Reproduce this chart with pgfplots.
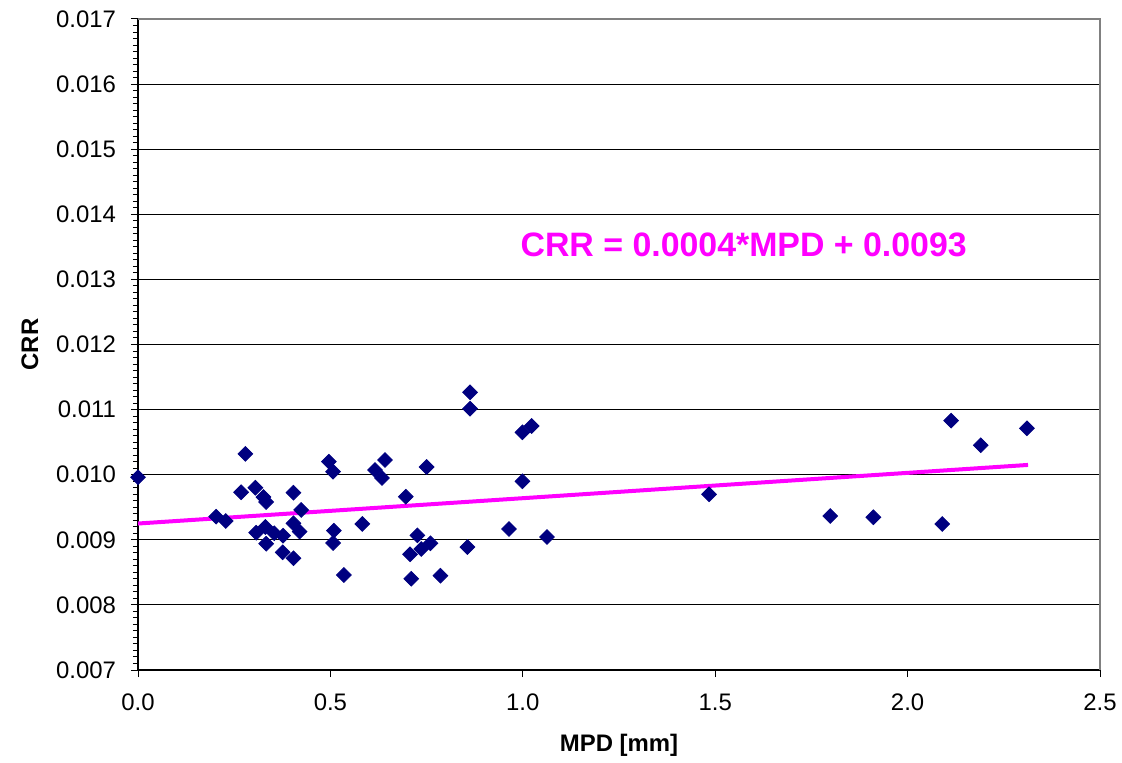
\documentclass[border=0pt]{standalone}
\usepackage{fontspec}
\setmainfont{Liberation Sans}
\usepackage{pgfplots}
\pgfplotsset{compat=1.18}
\definecolor{navy}{RGB}{0,0,128}
\definecolor{trendmag}{RGB}{255,0,255}
\begin{document}
\begin{tikzpicture}
\begin{axis}[
  scale only axis,
  width=481bp, height=325.5bp,
  xmin=0, xmax=2.5, ymin=0.007, ymax=0.017,
  xtick={0,0.5,1,1.5,2,2.5},
  ytick={0.007,0.008,0.009,0.010,0.011,0.012,0.013,0.014,0.015,0.016,0.017},
  minor y tick num=9,
  scaled y ticks=false, scaled x ticks=false,
  axis x line*=bottom, axis y line*=left,
  axis line style={black, line width=0.6bp},
  tick align=outside,
  major tick length=3.5bp, minor tick length=2.5bp,
  tick style={black, line width=0.5bp},
  x axis line style={-}, y axis line style={-},
  ymajorgrids, major grid style={black, line width=0.5bp},
  /pgf/number format/assume math mode=true,
  ticklabel style={font=\fontsize{12}{14}\selectfont},
  xticklabel style={/pgf/number format/fixed, /pgf/number format/fixed zerofill, /pgf/number format/precision=1, yshift=-5bp},
  yticklabel style={/pgf/number format/fixed, /pgf/number format/fixed zerofill, /pgf/number format/precision=3, xshift=-4bp},
  xlabel={MPD [mm]}, ylabel={CRR},
  every axis x label/.style={at={(rel axis cs:0.5,0)}, yshift=-37.5bp, anchor=center, font=\bfseries\fontsize{12}{14}\selectfont},
  every axis y label/.style={at={(rel axis cs:0,0.5)}, xshift=-54bp, rotate=90, anchor=center, font=\bfseries\fontsize{12}{14}\selectfont},
  clip=false,
]
\coordinate (bl) at (rel axis cs:0,0);
\draw[gray, line width=0.6bp] (rel axis cs:0,1) -- (rel axis cs:1,1) -- (rel axis cs:1,0);
\addplot[trendmag, line width=2bp] coordinates {(0,0.00925) (2.313,0.01015)};
\addplot[only marks, mark=square*, mark size=2.6bp, mark options={rotate=45, fill=navy, draw=navy}] coordinates {
(0.000,0.00996) (0.279,0.01032) (0.203,0.009355) (0.228,0.009289) (0.268,0.00973)
(0.305,0.00980) (0.326,0.009657) (0.333,0.009581) (0.307,0.009109) (0.331,0.009197)
(0.333,0.00894) (0.354,0.00910) (0.377,0.009063) (0.376,0.008808) (0.404,0.009724)
(0.404,0.009253) (0.424,0.009458) (0.420,0.009125) (0.404,0.008716) (0.496,0.01020)
(0.507,0.010046) (0.509,0.00914) (0.507,0.008951) (0.535,0.008459) (0.583,0.009243)
(0.616,0.010072) (0.642,0.010226) (0.634,0.009949) (0.696,0.009662) (0.750,0.010118)
(0.726,0.009069) (0.707,0.008777) (0.736,0.008859) (0.760,0.008946) (0.710,0.008402)
(0.786,0.008449) (0.856,0.008889) (0.863,0.011266) (0.863,0.011014) (0.964,0.009166)
(0.999,0.010651) (1.023,0.010748) (0.999,0.009899) (1.063,0.009043) (1.484,0.009699)
(1.799,0.009366) (1.911,0.009346) (2.090,0.009243) (2.113,0.01083) (2.190,0.010452)
(2.310,0.010713)
};
\node[text=trendmag, font=\bfseries\fontsize{17}{20}\selectfont, anchor=center] at (axis cs:1.574,0.013528) {CRR = 0.0004*MPD + 0.0093};
\end{axis}
\pgfresetboundingbox
\path (bl) ++(-69bp,-46.5bp) rectangle ++(561bp,381.5bp);
\end{tikzpicture}
\end{document}
